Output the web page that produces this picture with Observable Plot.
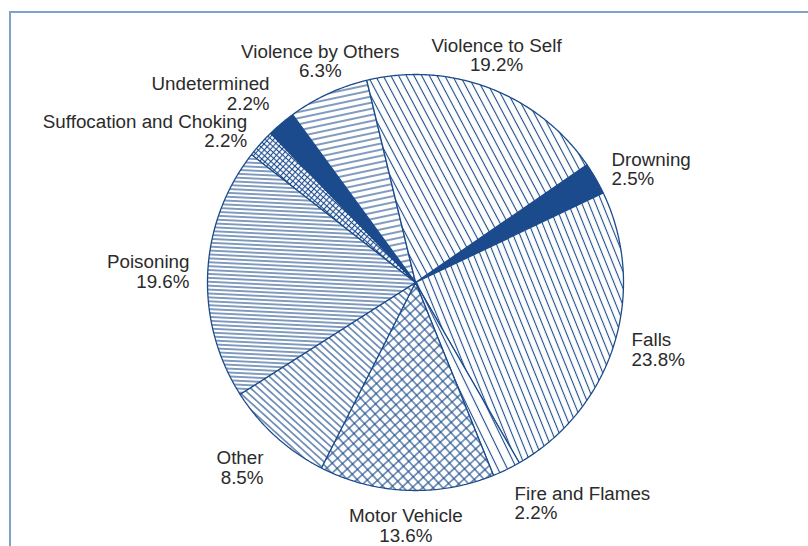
<!DOCTYPE html>
<html><head><meta charset="utf-8">
<script src="https://cdn.jsdelivr.net/npm/d3@7"></script>
<script src="https://cdn.jsdelivr.net/npm/@observablehq/plot@0.6"></script>
<style>
body{margin:0;background:#fff;overflow:hidden;}
#frame{position:absolute;left:9px;top:11px;width:840px;height:600px;border-left:2px solid #7fa2c8;border-top:2px solid #7fa2c8;}
#chart{position:absolute;left:0;top:0;}
</style></head><body>
<div id="frame"></div><div id="chart"></div>
<script>
// ---- data ----
const categories = ["Drowning","Falls","Fire and Flames","Motor Vehicle","Other","Poisoning","Suffocation and Choking","Undetermined","Violence by Others","Violence to Self"];
const percents = [2.5,23.8,2.2,13.6,8.5,19.6,2.2,2.2,6.3,19.2];

// ---- styles (fill patterns; rel = angle relative to slice bisector, abs = screen angle) ----
const patternStyle = {
  "Drowning": {type:"solid"},
  "Falls": {type:"lines", abs:68, gap:6.3},
  "Fire and Flames": {type:"lines", rel:0, gap:8.5},
  "Motor Vehicle": {type:"cross", rel:45, gap:7.2},
  "Other": {type:"lines", rel:90, gap:5.3},
  "Poisoning": {type:"lines", rel:0, gap:3.9},
  "Suffocation and Choking": {type:"cross", rel:0, gap:4.2},
  "Undetermined": {type:"solid"},
  "Violence by Others": {type:"lines", abs:-12, gap:6},
  "Violence to Self": {type:"lines", abs:62, gap:6.8}
};
const BLUE = "#1b4b8c";
const W = 808, H = 546, R = 208, cx = 415, cy = 282;
const startDeg = 55.5; // clockwise from north

const total = d3.sum(percents);
let acc = 0;
const slices = categories.map((c, i) => {
  const a0 = startDeg + acc / total * 360;
  acc += percents[i];
  const a1 = startDeg + acc / total * 360;
  return {cat: c, pct: percents[i], a0, a1, mid: (a0 + a1) / 2, i};
});
const rad = d => d * Math.PI / 180;

function slicePoly(s) {
  const pts = [{x:0, y:0}];
  const n = Math.max(4, Math.ceil((s.a1 - s.a0) / 0.5));
  for (let k = 0; k <= n; k++) {
    const a = rad(s.a0 + (s.a1 - s.a0) * k / n);
    pts.push({x: Math.sin(a), y: Math.cos(a)});
  }
  pts.push({x:0, y:0});
  return pts;
}

const sliceMarks = slices.map(s => Plot.line(slicePoly(s), {
  x: "x", y: "y", fill: `url(#pat${s.i})`, stroke: BLUE, strokeWidth: 1.3, strokeLinejoin: "miter", curve: "linear"
}));

// labels
const rl = 1.088;
const labels = slices.map(s => {
  const a = rad(s.mid);
  const ux = Math.sin(a), uy = -Math.cos(a);
  return {
    x: ux * rl, y: Math.cos(a) * rl,
    text: `${s.cat}\n${s.pct.toFixed(1)}%`,
    ta: Math.abs(ux) < 0.43 ? "middle" : (ux > 0 ? "start" : "end"),
    la: uy > 0.7 ? "top" : (uy < -0.7 ? "bottom" : "middle")
  };
});
const groups = d3.groups(labels, d => d.ta + "|" + d.la);
const labelMarks = groups.map(([k, arr]) => Plot.text(arr, {
  x: "x", y: "y", text: "text", textAnchor: arr[0].ta, lineAnchor: arr[0].la,
  lineHeight: 1.04, fontSize: 18.8, fill: "#2b2b2b",
  fontFamily: "'Liberation Sans', Arial, sans-serif"
}));

const svg = Plot.plot({
  width: W, height: H, margin: 0,
  x: {domain: [-cx / R, (W - cx) / R], axis: null},
  y: {domain: [-(H - cy) / R, cy / R], axis: null},
  marks: [...sliceMarks, ...labelMarks]
});

// pattern defs
const defs = d3.select(svg).insert("defs", ":first-child");
slices.forEach(s => {
  const st = patternStyle[s.cat];
  const a = rad(s.mid);
  const bis = Math.atan2(-Math.cos(a), Math.sin(a)) * 180 / Math.PI; // screen angle of bisector
  const id = "pat" + s.i;
  if (st.type === "solid") {
    const p = defs.append("pattern").attr("id", id).attr("patternUnits", "userSpaceOnUse").attr("width", 10).attr("height", 10);
    p.append("rect").attr("width", 10).attr("height", 10).attr("fill", BLUE);
    return;
  }
  const g = st.gap;
  const ang = st.abs !== undefined ? st.abs : bis + st.rel;
  const p = defs.append("pattern").attr("id", id).attr("patternUnits", "userSpaceOnUse")
    .attr("width", g).attr("height", g)
    .attr("patternTransform", `rotate(${ang})`);
  p.append("rect").attr("width", g).attr("height", g).attr("fill", "#fff");
  p.append("line").attr("x1", -1).attr("x2", g + 1).attr("y1", g / 2).attr("y2", g / 2)
    .attr("stroke", BLUE).attr("stroke-width", 1.1);
  if (st.type === "cross") {
    p.append("line").attr("y1", -1).attr("y2", g + 1).attr("x1", g / 2).attr("x2", g / 2)
      .attr("stroke", BLUE).attr("stroke-width", 1.1);
  }
});
document.getElementById("chart").appendChild(svg);
</script>
</body></html>
